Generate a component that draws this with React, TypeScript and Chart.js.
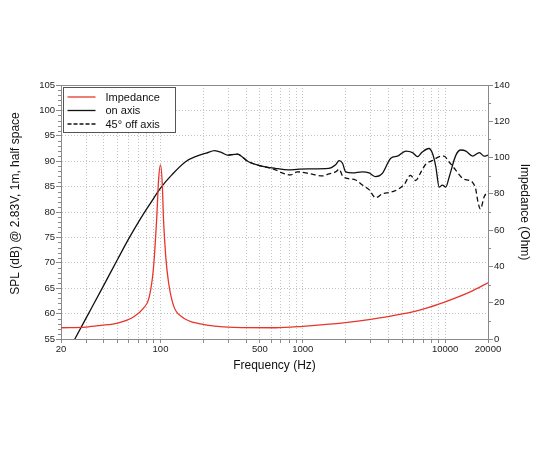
import React, { useEffect, useRef } from 'react';
import { Chart, registerables } from 'chart.js';

Chart.register(...registerables);

// x grid / tick positions (Hz) and which of them carry a label
const gridFreqs = [
  20, 30, 40, 50, 60, 70, 80, 90,
  100, 200, 300, 400, 500, 600, 700, 800, 900,
  1000, 2000, 3000, 4000, 5000, 6000, 7000, 8000, 9000,
  10000, 20000,
];
const labeledFreqs = [20, 100, 500, 1000, 10000, 20000];

const splTitle = 'SPL (dB) @ 2.83V, 1m, half space';

// Impedance (Ohm)
const impFreq = [20, 30, 38, 50, 65, 76, 83, 89, 94, 97, 100, 103, 105, 109, 114, 124, 141, 191, 325, 644, 1000, 2000, 3000, 5000, 7000, 10000, 15000, 20000];
const impOhm = [6.2, 6.6, 7.5, 8.8, 12.3, 17, 22.5, 38, 66, 88, 96, 85, 66, 45, 31, 18, 12.3, 8.3, 6.4, 6.2, 7.0, 9.0, 10.8, 13.8, 16.5, 20.5, 26, 31];

// SPL on axis (dB)
const onFreq = [23, 30, 40, 50, 60, 70, 80, 90, 100, 120, 150, 180, 210, 240, 270, 295, 345, 415, 490, 640, 800, 910, 1100, 1520, 1700, 1800, 1900, 2000, 2230, 2620, 2920, 3250, 3620, 4150, 4620, 5290, 5900, 6400, 6900, 7700, 8150, 8600, 9080, 9550, 10100, 10700, 11900, 12900, 14000, 15600, 17400, 18800, 20000];
const onSpl = [53.1, 59.1, 65.6, 70.7, 74.8, 78.0, 80.6, 82.8, 84.7, 87.3, 89.9, 91.0, 91.6, 92.1, 91.7, 91.2, 91.4, 89.9, 89.2, 88.6, 88.3, 88.4, 88.5, 88.6, 89.3, 90.1, 89.6, 87.9, 87.7, 87.9, 87.7, 86.95, 87.6, 90.6, 91.0, 92.0, 91.7, 90.9, 91.8, 92.5, 91.5, 88.9, 84.9, 85.3, 84.9, 87.0, 91.2, 92.2, 92.0, 91.0, 91.7, 91.0, 91.2];

// SPL 45° off axis (dB)
const offFreq = [300, 345, 415, 490, 643, 716, 820, 914, 1100, 1370, 1530, 1700, 1800, 1900, 2050, 2350, 2620, 2920, 3250, 3620, 4150, 4620, 5150, 5700, 6200, 6800, 7300, 8100, 9100, 9800, 10700, 11900, 13300, 14800, 15600, 16400, 17000, 17700, 18800, 20000];
const offSpl = [91.2, 91.4, 89.9, 89.2, 88.3, 87.7, 87.3, 87.9, 87.6, 87.1, 87.5, 87.9, 88.4, 87.1, 86.6, 86.3, 85.3, 84.4, 82.8, 83.6, 83.9, 84.4, 85.4, 87.2, 86.2, 88.0, 89.4, 90.1, 90.9, 91.0, 89.8, 88.2, 86.6, 86.2, 85.8, 84.5, 82.0, 80.6, 83.0, 84.0];

const FONT = "'Liberation Sans', Arial, Helvetica, sans-serif";
const AXIS_GREY = '#8a8a8a';
const GRID_GREY = '#c4c4c4';
const TICK_TEXT = '#222';

const toPoints = (xs: number[], ys: number[]) => xs.map((x, i) => ({ x, y: ys[i] }));

// top frame line, minor ticks on both y axes, and the left axis title
const frameAndMinorTicks = {
  id: 'frameAndMinorTicks',
  afterDraw(chart: any) {
    const { ctx, chartArea, scales } = chart;
    ctx.save();
    ctx.strokeStyle = AXIS_GREY;
    ctx.lineWidth = 1;
    ctx.beginPath();
    ctx.moveTo(chartArea.left, chartArea.top + 0.5);
    ctx.lineTo(chartArea.right, chartArea.top + 0.5);
    const yl = scales.y;
    for (let v = yl.min; v <= yl.max; v += 1) {
      if (v % 5 === 0) continue;
      const py = Math.round(yl.getPixelForValue(v)) + 0.5;
      ctx.moveTo(chartArea.left - 3, py);
      ctx.lineTo(chartArea.left, py);
    }
    const yr = scales.y2;
    for (let v = yr.min; v <= yr.max; v += 10) {
      if (v % 20 === 0) continue;
      const py = Math.round(yr.getPixelForValue(v)) + 0.5;
      ctx.moveTo(chartArea.right, py);
      ctx.lineTo(chartArea.right + 3, py);
    }
    ctx.stroke();

    // left title sits a little above the plot's middle in the original
    ctx.translate(16, (chartArea.top + chartArea.bottom) / 2 - 8.5);
    ctx.rotate(-Math.PI / 2);
    ctx.font = `12px ${FONT}`;
    ctx.fillStyle = '#111';
    ctx.textAlign = 'center';
    ctx.textBaseline = 'middle';
    ctx.fillText(splTitle, 0, 0);
    ctx.restore();
  },
};

const insideLegend = {
  id: 'insideLegend',
  afterDraw(chart: any) {
    const { ctx, chartArea } = chart;
    const x0 = chartArea.left + 2.5;
    const y0 = chartArea.top + 2.5;
    ctx.save();
    ctx.fillStyle = '#fff';
    ctx.fillRect(x0, y0, 112, 45);
    ctx.strokeStyle = '#555';
    ctx.lineWidth = 1;
    ctx.strokeRect(x0, y0, 112, 45);
    ctx.font = `11px ${FONT}`;
    ctx.textBaseline = 'middle';
    chart.data.datasets.forEach((ds: any, i: number) => {
      const y = y0 + 9.5 + i * 13.5;
      ctx.beginPath();
      ctx.strokeStyle = ds.borderColor;
      ctx.lineWidth = 1.3;
      ctx.setLineDash(ds.borderDash ? [4, 2] : []);
      ctx.moveTo(x0 + 4, y);
      ctx.lineTo(x0 + 32, y);
      ctx.stroke();
      ctx.setLineDash([]);
      ctx.fillStyle = '#111';
      ctx.fillText(ds.label, x0 + 42, y + 0.5);
    });
    ctx.restore();
  },
};

const App: React.FC = () => {
  const canvasRef = useRef<HTMLCanvasElement>(null);

  useEffect(() => {
    if (!canvasRef.current) return;
    Chart.defaults.font.family = FONT;

    const chart = new Chart(canvasRef.current, {
      type: 'line',
      data: {
        datasets: [
          {
            label: 'Impedance',
            data: toPoints(impFreq, impOhm),
            yAxisID: 'y2',
            borderColor: '#e8352c',
            borderWidth: 1.3,
            pointRadius: 0,
            cubicInterpolationMode: 'monotone',
            fill: false,
          },
          {
            label: 'on axis',
            data: toPoints(onFreq, onSpl),
            yAxisID: 'y',
            borderColor: '#111',
            borderWidth: 1.3,
            pointRadius: 0,
            cubicInterpolationMode: 'monotone',
            fill: false,
          },
          {
            label: '45° off axis',
            data: toPoints(offFreq, offSpl),
            yAxisID: 'y',
            borderColor: '#111',
            borderWidth: 1.3,
            borderDash: [5, 3],
            pointRadius: 0,
            cubicInterpolationMode: 'monotone',
            fill: false,
          },
        ],
      },
      options: {
        responsive: false,
        animation: false,
        layout: { padding: { top: 85, left: 0, right: 0, bottom: 0 } },
        plugins: {
          legend: { display: false },
          tooltip: { enabled: false },
        },
        scales: {
          x: {
            type: 'logarithmic',
            min: 20,
            max: 20000,
            afterBuildTicks: (scale: any) => {
              scale.ticks = gridFreqs.map(v => ({ value: v }));
            },
            afterFit: (scale: any) => {
              scale.height = 111;
            },
            ticks: {
              autoSkip: false,
              maxRotation: 0,
              padding: 1,
              color: TICK_TEXT,
              font: { size: 9.5 },
              callback: (value: any) => (labeledFreqs.includes(Number(value)) ? String(value) : ''),
            },
            grid: {
              color: GRID_GREY,
              tickLength: 4,
              tickColor: AXIS_GREY,
              tickBorderDash: [],
            },
            border: { color: AXIS_GREY, width: 1, dash: [1, 2] },
            title: {
              display: true,
              text: 'Frequency (Hz)',
              color: '#111',
              font: { size: 12 },
              padding: { top: 0, bottom: 77 },
            },
          },
          y: {
            position: 'left',
            min: 55,
            max: 105,
            afterFit: (scale: any) => {
              scale.width = 61;
            },
            ticks: { stepSize: 5, padding: 1, color: TICK_TEXT, font: { size: 9.5 } },
            grid: {
              color: GRID_GREY,
              tickLength: 5,
              tickColor: AXIS_GREY,
              tickBorderDash: [],
            },
            border: { color: AXIS_GREY, width: 1, dash: [1, 2] },
            title: { display: false },
          },
          y2: {
            position: 'right',
            min: 0,
            max: 140,
            afterFit: (scale: any) => {
              scale.width = 62;
            },
            ticks: { stepSize: 20, padding: 1, color: TICK_TEXT, font: { size: 9.5 } },
            grid: {
              drawOnChartArea: false,
              tickLength: 5,
              tickColor: AXIS_GREY,
            },
            border: { color: AXIS_GREY, width: 1 },
            title: {
              display: true,
              text: 'Impedance (Ohm)',
              color: '#111',
              font: { size: 12 },
              padding: { top: 18.5, bottom: 0 },
            },
          },
        },
      } as any,
      plugins: [frameAndMinorTicks, insideLegend],
    });

    return () => {
      chart.destroy();
    };
  }, []);

  return (
    <div style={{ position: 'absolute', left: 0, top: 0, width: 550, height: 450, background: '#fff' }}>
      <canvas ref={canvasRef} width={550} height={450}></canvas>
    </div>
  );
};

export default App;
